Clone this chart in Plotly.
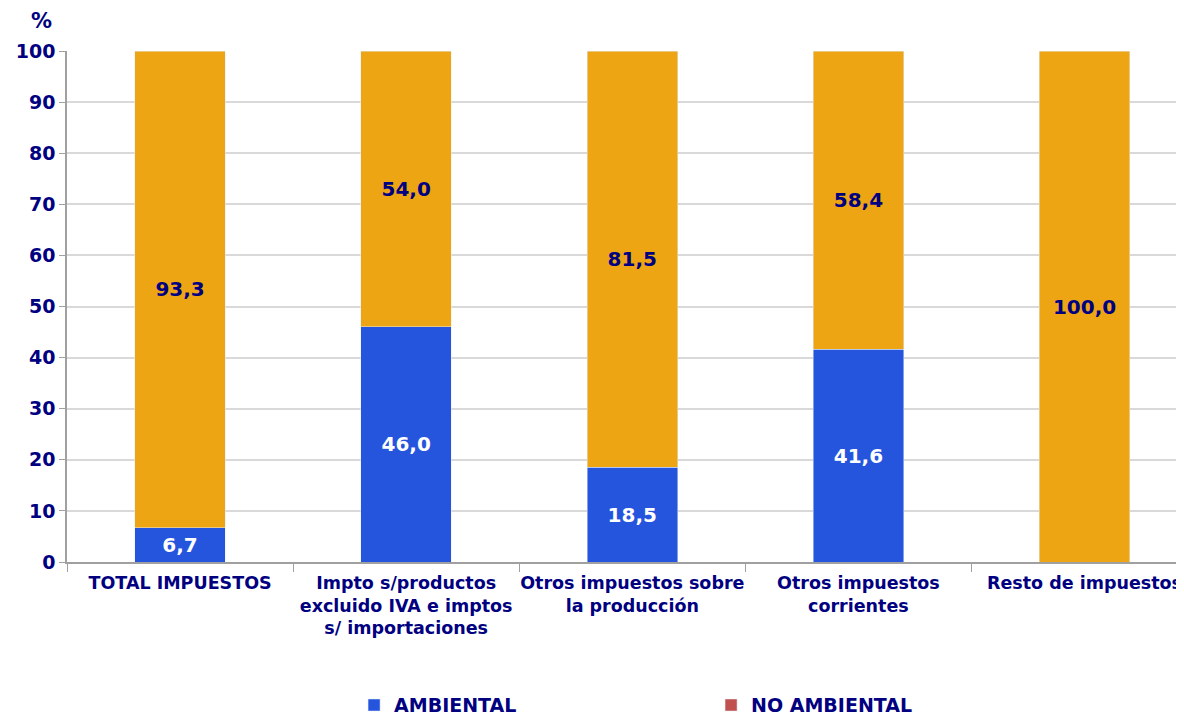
import plotly.graph_objects as go

categories = ["TOTAL IMPUESTOS",
              "Impto s/productos<br>excluido IVA e imptos<br>s/ importaciones",
              "Otros impuestos sobre<br>la producción",
              "Otros impuestos<br>corrientes",
              "Resto de impuestos"]
ambiental = [6.7, 46.0, 18.5, 41.6, 0.0]
no_ambiental = [93.3, 54.0, 81.5, 58.4, 100.0]
yticks = [0, 10, 20, 30, 40, 50, 60, 70, 80, 90, 100]

NAVY = "#000080"
BLUE = "#2554DD"
ORANGE = "#EDA514"
LEG_RED = "#C0504D"
FONT = "DejaVu Sans"

def fmt(v):
    return f"{v:.1f}".replace(".", ",")

fig = go.Figure()
fig.add_trace(go.Bar(
    x=categories, y=ambiental, marker_color=BLUE, width=0.4,
    text=[fmt(v) if v > 0 else "" for v in ambiental],
    textposition="inside", insidetextanchor="middle",
    textfont=dict(color="white", size=20, family=FONT, weight="bold"),
    showlegend=False, cliponaxis=False))
fig.add_trace(go.Bar(
    x=categories, y=no_ambiental, marker_color=ORANGE, width=0.4,
    text=[fmt(v) for v in no_ambiental],
    textposition="inside", insidetextanchor="middle",
    textfont=dict(color=NAVY, size=20, family=FONT, weight="bold"),
    showlegend=False, cliponaxis=False))
# legend entries (legend colours differ from the bar colours in the original)
fig.add_trace(go.Bar(x=[None], y=[None], name="AMBIENTAL", marker_color=BLUE))
fig.add_trace(go.Bar(x=[None], y=[None], name="NO AMBIENTAL", marker_color=LEG_RED))

fig.update_layout(
    barmode="stack",
    width=1176, height=712,
    margin=dict(l=59, r=0, t=43, b=158, autoexpand=False),
    plot_bgcolor="white", paper_bgcolor="white",
    font=dict(family=FONT, color=NAVY, size=16),
    uniformtext=dict(minsize=8, mode="show"),
    legend=dict(orientation="h", x=0.257, xanchor="left", y=-0.243, yanchor="top",
                font=dict(size=19, color=NAVY, family=FONT, weight="bold"),
                entrywidth=312, itemwidth=30, traceorder="normal"),
    annotations=[dict(text="<b>%</b>", xref="paper", yref="paper",
                      x=-0.023, y=1.059, xanchor="center", yanchor="middle",
                      showarrow=False, font=dict(size=21, color=NAVY))],
)
fig.update_xaxes(
    range=[-0.5, 4.44], tickson="boundaries", ticks="outside", ticklen=8,
    tickangle=0, automargin=False, ticklabelstandoff=4,
    tickcolor="#a0a0a0", showline=True, linecolor="#a0a0a0", linewidth=1.5,
    tickfont=dict(size=17.5, color=NAVY, family=FONT, weight="bold"), showgrid=False)
fig.update_yaxes(
    range=[0, 100], tickvals=yticks, ticks="outside", ticklen=6, tickcolor="#a0a0a0",
    showline=True, linecolor="#a0a0a0", linewidth=1.5, automargin=False,
    gridcolor="#d9d9d9", gridwidth=2,
    tickfont=dict(size=19, color=NAVY, family=FONT, weight="bold"))

fig.write_html("out.html")
